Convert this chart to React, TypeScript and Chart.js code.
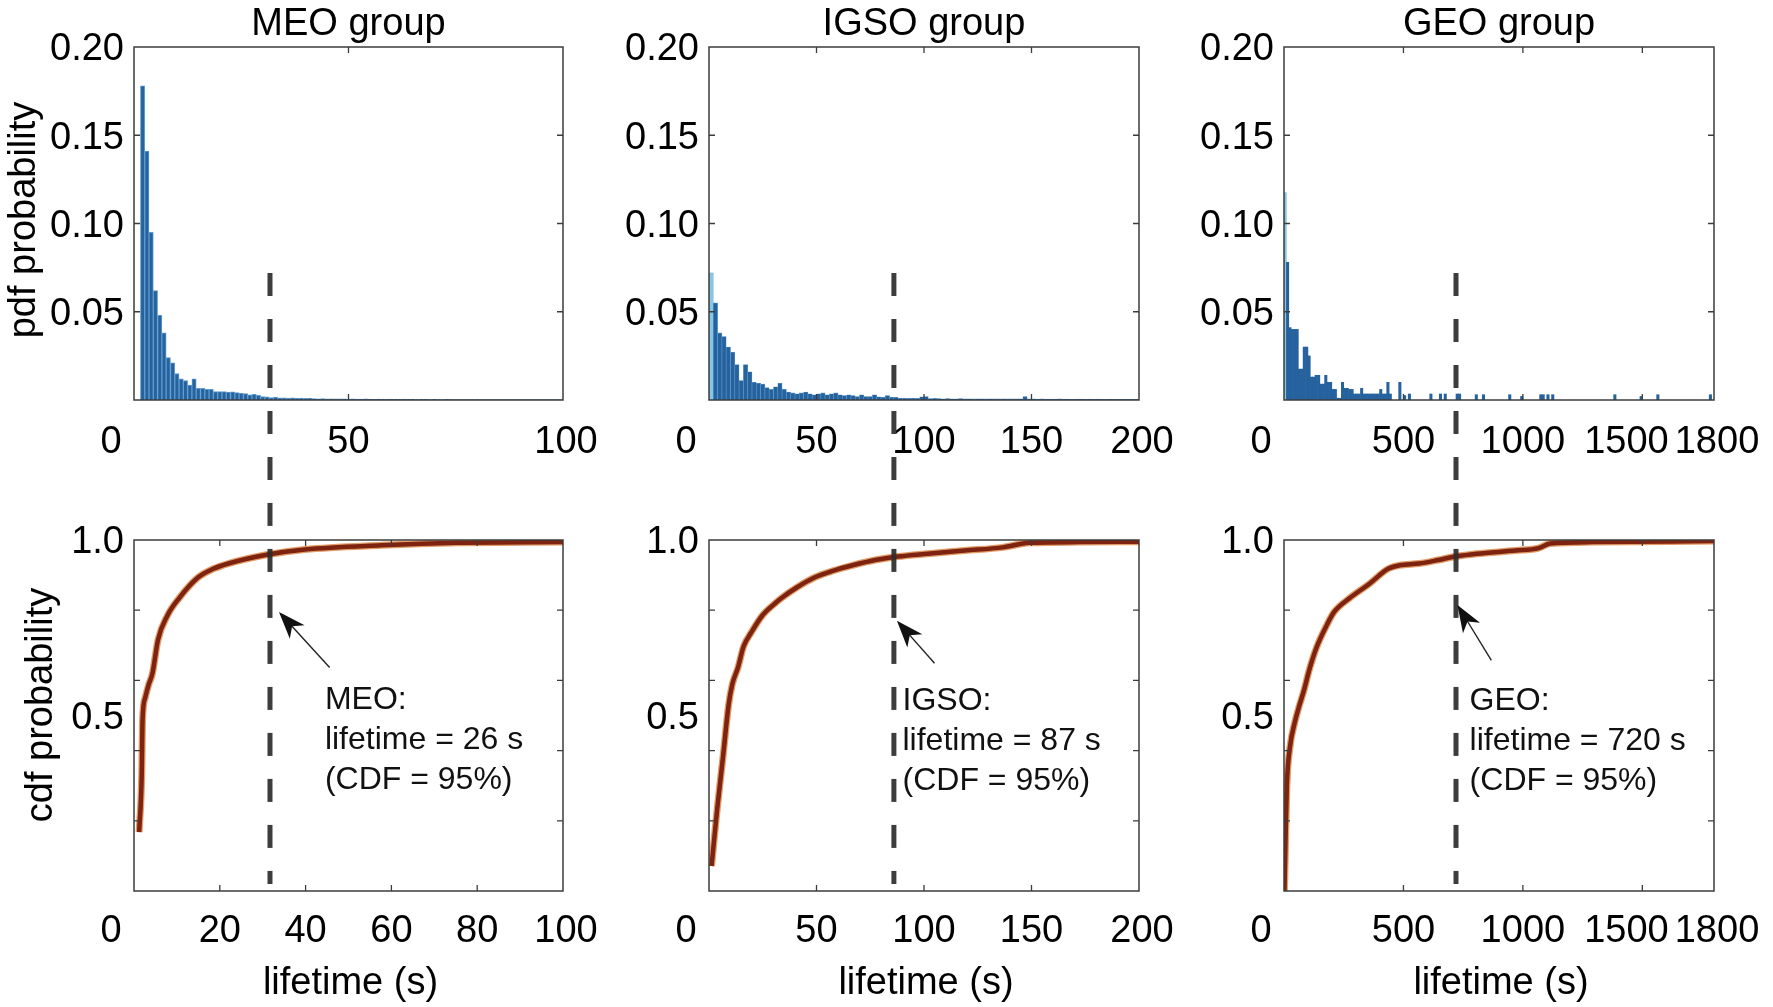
import React, { useEffect, useRef } from "react";
import { Chart, registerables } from "chart.js";

Chart.register(...registerables);

// ================= DATA =================
const groupTitles = ["MEO group", "IGSO group", "GEO group"];
const groupNames = ["MEO", "IGSO", "GEO"];
const lifetimeAt95 = [26, 87, 720];
const xAxisMax = [100, 200, 1800];

const pdfXTickLabels = [
  [0, 50, 100],
  [0, 50, 100, 150, 200],
  [0, 500, 1000, 1500, 1800],
];
const cdfXTickLabels = [
  [0, 20, 40, 60, 80, 100],
  [0, 50, 100, 150, 200],
  [0, 500, 1000, 1500, 1800],
];
const pdfYTickLabels = [0.05, 0.1, 0.15, 0.2];
const cdfYTickLabels = [0.5, 1.0];
const cdfYMinorTicks = [0.2, 0.4, 0.6, 0.8];

// x position where the dashed 95% line is drawn (as seen in the picture)
const dashedLineX = [31.7, 86, 720];
const dashedTopValue = 0.072; // pdf value where the dash starts
const dashedBottomValue = 0.02; // cdf value where the dash ends

// MEO pdf histogram (1 s bins)
const meoPdfX = [
  2, 3, 4, 5, 6, 7, 8, 9, 10, 11, 12, 13, 14, 15, 16, 17, 18, 19, 20, 21, 22, 23, 24, 25, 26, 27, 28, 29, 30, 31,
  32, 33, 34, 35, 36, 37, 38, 39, 40, 41, 42, 43, 44, 45, 46, 47, 48, 49, 50, 51, 52, 53, 54, 55, 56, 57, 58, 59,
  60, 61, 62, 63, 64, 65, 66, 67, 68, 69, 70, 71, 72, 73, 74, 75, 76, 77, 78, 79, 80, 81, 82, 83, 84, 85, 86, 87,
  88, 89, 90, 91, 92, 93, 94, 95, 96, 97, 98, 99, 100,
];
const meoPdfY = [
  0.178, 0.141, 0.095, 0.062, 0.048, 0.038, 0.024, 0.021, 0.015, 0.012,
  0.011, 0.0085, 0.012, 0.0066, 0.0066, 0.006, 0.006, 0.0048, 0.0047, 0.0047,
  0.0045, 0.0046, 0.0042, 0.0038, 0.0036, 0.003, 0.0032, 0.0026, 0.002, 0.0018,
  0.0014, 0.0016, 0.0012, 0.0012, 0.0011, 0.0012, 0.001, 0.0011, 0.0009, 0.001,
  0.0008,
  0.0007, 0.0008, 0.0006, 0.0007, 0.0006, 0.0006, 0.0007, 0.0005, 0.0006, 0.0005,
  0.0005, 0.0006, 0.0005, 0.0004, 0.0005, 0.0005, 0.0004, 0.0005, 0.0004, 0.0004,
  0.0005, 0.0004, 0.0004, 0.0003, 0.0004, 0.0004, 0.0003, 0.0004, 0.0003, 0.0003,
  0.0004, 0.0003, 0.0003, 0.0003, 0.0003, 0.0002, 0.0003, 0.0003, 0.0002, 0.0003,
  0.0002, 0.0002, 0.0003, 0.0002, 0.0002, 0.0002, 0.0002, 0.0002, 0.0002, 0.0002,
  0.0002, 0.0002, 0.0002, 0.0002, 0.0002, 0.0002, 0.0002, 0.0002,
];

// IGSO pdf histogram (2 s bins)
const igsoPdfX = [
  1, 3, 5, 7, 9, 11, 13, 15, 17, 19, 21, 23, 25, 27, 29, 31, 33, 35, 37, 39, 41, 43, 45, 47, 49, 51, 53, 55, 57, 59,
  61, 63, 65, 67, 69, 71, 73, 75, 77, 79, 81, 83, 85, 87, 89, 91, 93, 95, 97, 99, 101, 103, 105, 107, 109, 111, 113,
  115, 117, 119, 121, 123, 125, 127, 129, 131, 133, 135, 137, 139, 141, 143, 145, 147, 149, 151, 153, 155, 157, 159,
  161, 163, 165, 167, 169, 171, 173, 175, 177, 179, 181, 183, 185, 187, 189, 191, 193, 195, 197, 199,
];
const igsoPdfY = [
  0.072, 0.055, 0.038, 0.036, 0.03, 0.027, 0.02, 0.011, 0.02, 0.016,
  0.01, 0.0095, 0.009, 0.007, 0.006, 0.0075, 0.0095, 0.006, 0.0045, 0.004,
  0.0035, 0.004, 0.0045, 0.0035, 0.003, 0.0035, 0.004, 0.003, 0.0035, 0.004,
  0.003, 0.0025, 0.003, 0.0025, 0.002, 0.003, 0.002, 0.002, 0.003, 0.0018,
  0.0015, 0.0025, 0.0015, 0.0015, 0.001, 0.001, 0.0009, 0.001, 0.0009, 0.0018,
  0.002, 0.0008, 0.0009, 0.0008, 0.0007, 0.0008, 0.0007, 0.0007, 0.0008, 0.0007,
  0.0007, 0.0006, 0.0007, 0.0007, 0.0006, 0.0007, 0.0006, 0.0006, 0.0007, 0.0006,
  0.0006, 0.0006, 0.0007, 0.002, 0.0006, 0.0006, 0.0005, 0.0006, 0.0005, 0.0005,
  0.0005, 0.0006, 0.0005, 0.0005, 0.0004, 0.0005, 0.0005, 0.0004, 0.0005, 0.0004,
  0.0005, 0.0004, 0.0004, 0.0005, 0.0004, 0.0004, 0.0004, 0.0004, 0.0004, 0.0004,
];

// GEO pdf histogram (10 s bins, only non-empty bins)
const geoPdfX = [
  5, 15, 25, 35, 45, 55, 65, 75, 85, 95, 105, 115, 125, 135, 145, 155, 165, 175, 185, 195, 205, 215, 225, 235, 245,
  255, 265, 275, 285, 295, 305, 315, 325, 335, 345, 355, 365, 375, 385, 395, 405, 415, 425, 435, 445, 485, 505, 525,
  615, 655, 675, 725, 735, 805, 835, 945, 995, 1075, 1085, 1105, 1125, 1385, 1495, 1565, 1785,
];
const geoPdfY = [
  0.1175, 0.078, 0.041, 0.04, 0.04, 0.04, 0.0175, 0.0175, 0.03, 0.03, 0.025, 0.013, 0.013, 0.014, 0.014, 0.009, 0.009,
  0.014, 0.01, 0.01, 0.006, 0.006, 0.001, 0.001, 0.01, 0.0066, 0.0066, 0.006, 0.006, 0.0034, 0.0034, 0.0034, 0.0066,
  0.0034, 0.0034, 0.0034, 0.0034, 0.0034, 0.0034, 0.0034, 0.006, 0.0034, 0.0034, 0.01, 0.0034, 0.01, 0.0025, 0.0034,
  0.0034, 0.0034, 0.0034, 0.0034, 0.0034, 0.003, 0.003, 0.003, 0.002, 0.003, 0.003, 0.003, 0.003, 0.003, 0.002, 0.003,
  0.003,
];

// CDF curves
const meoCdfX = [1.2, 1.8, 2.0, 2.6, 3.4, 4.3, 5.6, 7.8, 10.5, 14.9, 18.5, 22, 30.9, 39.8, 57.6, 75.4, 100];
const meoCdfY = [0.168, 0.33, 0.489, 0.55, 0.587, 0.62, 0.716, 0.785, 0.834, 0.893, 0.918, 0.933, 0.958, 0.973, 0.985, 0.992, 0.994];

const igsoCdfX = [1.2, 3.8, 6.5, 9.1, 10.8, 13.5, 16.1, 19.6, 24.8, 31.8, 33.6, 40.6, 49.3, 58, 66.8, 77.3, 87.8, 101.7, 119, 136.7, 149, 171.7, 200];
const igsoCdfY = [0.071, 0.233, 0.381, 0.529, 0.588, 0.637, 0.697, 0.736, 0.785, 0.825, 0.834, 0.864, 0.894, 0.913, 0.928, 0.943, 0.953, 0.961, 0.97, 0.979, 0.992, 0.994, 0.995];

const geoCdfX = [2, 6, 12, 25, 45, 65, 85, 105, 137, 178, 210, 274, 355, 436, 484, 565, 646, 718, 807, 969, 1066, 1114, 1291, 1800];
const geoCdfY = [0.0, 0.13, 0.3, 0.41, 0.48, 0.53, 0.575, 0.628, 0.695, 0.756, 0.795, 0.834, 0.874, 0.918, 0.928, 0.933, 0.943, 0.953, 0.961, 0.97, 0.977, 0.99, 0.994, 0.997];

// Annotation anchors (data coordinates of the cdf panels)
const arrowTipX = [33.8, 87.4, 726];
const arrowTipY = [0.795, 0.77, 0.815];
const arrowTailX = [45.6, 104.9, 868];
const arrowTailY = [0.637, 0.649, 0.657];
const noteX = [44.5, 90, 777];
const noteY = [0.545, 0.54, 0.54];

const pdfXs = [meoPdfX, igsoPdfX, geoPdfX];
const pdfYs = [meoPdfY, igsoPdfY, geoPdfY];
const cdfXs = [meoCdfX, igsoCdfX, geoCdfX];
const cdfYs = [meoCdfY, igsoCdfY, geoCdfY];

// ================= LAYOUT / STYLE =================
const FONT = '"Liberation Sans", Arial, Helvetica, sans-serif';
Chart.defaults.font.family = FONT;

const COLS = [
  { cx: 0, w: 600, left: 134, right: 563 },
  { cx: 600, w: 580, left: 709, right: 1139 },
  { cx: 1180, w: 593, left: 1284, right: 1714 },
];
const ROWS = [
  { cy: 0, h: 500, top: 47, bottom: 400 },
  { cy: 500, h: 507, top: 540, bottom: 891 },
];

const BAR_FILL = "rgb(38,98,158)";
const BAR_EDGE = "rgb(95,155,205)";
const BAR_LIGHT = "rgb(135,198,228)";
const FRAME = "#3c3c3c";
const DASH = [23, 23];

type Shared = { phase: number[] };

function drawXLabels(ctx: CanvasRenderingContext2D, xs: any, vals: number[], y: number) {
  ctx.font = `38px ${FONT}`;
  ctx.fillStyle = "#000";
  ctx.textAlign = "center";
  ctx.textBaseline = "middle";
  const items = vals.map((v, i) => {
    const px = xs.getPixelForValue(v);
    const txt = String(v);
    const w = ctx.measureText(txt).width;
    let c = px;
    if (i === 0) c = px - 23;
    if (i === vals.length - 1) c = px + 3;
    return { txt, c, w };
  });
  for (let i = items.length - 2; i >= 0; i--) {
    const maxRight = items[i + 1].c - items[i + 1].w / 2 - 6;
    if (items[i].c + items[i].w / 2 > maxRight) items[i].c = maxRight - items[i].w / 2;
  }
  items.forEach((it) => ctx.fillText(it.txt, it.c, y));
}

function decorPlugin(col: number, row: number, shared: Shared) {
  return {
    id: "decor" + row + col,
    afterDatasetsDraw(chart: any) {
      const { ctx, chartArea: a, scales } = chart;
      const xs = scales.x;
      const ys = scales.y;
      ctx.save();

      // frame
      ctx.strokeStyle = FRAME;
      ctx.lineWidth = 1.5;
      ctx.setLineDash([]);
      ctx.strokeRect(a.left, a.top, a.right - a.left, a.bottom - a.top);

      // inner tick marks
      const tl = 6;
      const xTicks = row === 0 ? pdfXTickLabels[col] : cdfXTickLabels[col];
      const yMarks = row === 0 ? pdfYTickLabels : cdfYMinorTicks;
      ctx.lineWidth = 1.3;
      ctx.beginPath();
      xTicks.forEach((v) => {
        const px = xs.getPixelForValue(v);
        if (px <= a.left + 1 || px >= a.right - 1) return;
        ctx.moveTo(px, a.bottom);
        ctx.lineTo(px, a.bottom - tl);
        ctx.moveTo(px, a.top);
        ctx.lineTo(px, a.top + tl);
      });
      yMarks.forEach((v) => {
        const py = ys.getPixelForValue(v);
        if (py <= a.top + 1) return;
        ctx.moveTo(a.left, py);
        ctx.lineTo(a.left + tl, py);
        ctx.moveTo(a.right, py);
        ctx.lineTo(a.right - tl, py);
      });
      ctx.stroke();

      // x tick labels
      drawXLabels(ctx, xs, xTicks, a.bottom + (row === 0 ? 43 : 41));

      // titles
      ctx.fillStyle = "#000";
      ctx.textAlign = "center";
      ctx.textBaseline = "middle";
      ctx.font = `38px ${FONT}`;
      const midX = (a.left + a.right) / 2;
      if (row === 0) {
        ctx.fillText(groupTitles[col], midX, 25);
      } else {
        ctx.fillText("lifetime (s)", midX + 2, a.bottom + 93);
      }
      if (col === 0) {
        ctx.save();
        if (row === 0) ctx.translate(25, 220);
        else ctx.translate(42, 205);
        ctx.rotate(-Math.PI / 2);
        ctx.fillText(row === 0 ? "pdf probability" : "cdf probability", 0, 0);
        ctx.restore();
      }

      // dashed 95% line
      const dx = xs.getPixelForValue(dashedLineX[col]);
      ctx.strokeStyle = "rgba(45,45,45,0.92)";
      ctx.lineWidth = 5;
      ctx.setLineDash(DASH);
      ctx.beginPath();
      if (row === 0) {
        const y0 = ys.getPixelForValue(dashedTopValue);
        ctx.lineDashOffset = 0;
        ctx.moveTo(dx, y0);
        ctx.lineTo(dx, chart.height);
        shared.phase[col] = (chart.height - y0) % (DASH[0] + DASH[1]);
      } else {
        ctx.lineDashOffset = shared.phase[col] || 0;
        ctx.moveTo(dx, 0);
        ctx.lineTo(dx, ys.getPixelForValue(dashedBottomValue));
      }
      ctx.stroke();
      ctx.setLineDash([]);
      ctx.lineDashOffset = 0;

      if (row === 1) {
        // arrow
        const tx = xs.getPixelForValue(arrowTipX[col]);
        const ty = ys.getPixelForValue(arrowTipY[col]);
        const sx = xs.getPixelForValue(arrowTailX[col]);
        const sy = ys.getPixelForValue(arrowTailY[col]);
        const len = Math.hypot(tx - sx, ty - sy);
        const ux = (tx - sx) / len;
        const uy = (ty - sy) / len;
        const nx = -uy;
        const ny = ux;
        const HL = 27;
        const HW = 10;
        ctx.strokeStyle = "#222";
        ctx.lineWidth = 1.4;
        ctx.beginPath();
        ctx.moveTo(sx, sy);
        ctx.lineTo(tx - ux * HL * 0.6, ty - uy * HL * 0.6);
        ctx.stroke();
        ctx.fillStyle = "#111";
        ctx.beginPath();
        ctx.moveTo(tx, ty);
        ctx.lineTo(tx - ux * HL + nx * HW, ty - uy * HL + ny * HW);
        ctx.lineTo(tx - ux * HL * 0.72, ty - uy * HL * 0.72);
        ctx.lineTo(tx - ux * HL - nx * HW, ty - uy * HL - ny * HW);
        ctx.closePath();
        ctx.fill();

        // annotation text
        ctx.fillStyle = "#111";
        ctx.font = `32px ${FONT}`;
        ctx.textAlign = "left";
        ctx.textBaseline = "middle";
        const nxp = xs.getPixelForValue(noteX[col]);
        const nyp = ys.getPixelForValue(noteY[col]);
        const lines = [`${groupNames[col]}:`, `lifetime = ${lifetimeAt95[col]} s`, "(CDF = 95%)"];
        lines.forEach((t, i) => ctx.fillText(t, nxp, nyp + i * 40));
      }
      ctx.restore();
    },
  };
}

function baseOptions(col: number, row: number, yMax: number, yTicks: number[], digits: number) {
  const C = COLS[col];
  const R = ROWS[row];
  const L = C.left - C.cx;
  const Rp = C.cx + C.w - C.right;
  const T = R.top - R.cy;
  const B = R.cy + R.h - R.bottom;
  return {
    responsive: false,
    maintainAspectRatio: false,
    animation: false,
    devicePixelRatio: 1,
    events: [],
    layout: { padding: { left: 0, top: T, right: Rp, bottom: 0 } },
    plugins: { legend: { display: false }, tooltip: { enabled: false }, title: { display: false } },
    scales: {
      x: {
        type: "linear",
        min: 0,
        max: xAxisMax[col],
        offset: false,
        grid: { display: false, drawTicks: false },
        border: { display: false },
        ticks: { display: false },
        afterFit: (s: any) => {
          s.height = B;
        },
      },
      y: {
        type: "linear",
        min: 0,
        max: yMax,
        grid: { display: false, drawTicks: false },
        border: { display: false },
        ticks: {
          color: "#000",
          font: { size: 38, family: FONT },
          padding: 10,
          labelOffset: 3,
          callback: (v: any) => Number(v).toFixed(digits),
        },
        afterBuildTicks: (s: any) => {
          s.ticks = yTicks.map((v) => ({ value: v }));
        },
        afterFit: (s: any) => {
          s.width = L;
        },
      },
    },
  };
}

function makePdfChart(canvas: HTMLCanvasElement, col: number, shared: Shared) {
  const xs = pdfXs[col];
  const ys = pdfYs[col];
  const highlightFirst = col !== 0;
  return new Chart(canvas, {
    type: "bar",
    data: {
      datasets: [
        {
          data: xs.map((x, i) => ({ x, y: ys[i] })),
          backgroundColor: (c: any) => (highlightFirst && c.dataIndex === 0 ? BAR_LIGHT : BAR_FILL),
          borderColor: BAR_EDGE,
          borderWidth: col === 0 ? 1 : col === 1 ? 0.6 : 0,
          barPercentage: 1,
          categoryPercentage: 1,
          grouped: false,
        } as any,
      ],
    },
    options: baseOptions(col, 0, 0.2, pdfYTickLabels, 2) as any,
    plugins: [decorPlugin(col, 0, shared)],
  });
}

function makeCdfChart(canvas: HTMLCanvasElement, col: number, shared: Shared) {
  const xs = cdfXs[col];
  const ys = cdfYs[col];
  const pts = xs.map((x, i) => ({ x, y: ys[i] }));
  return new Chart(canvas, {
    type: "line",
    data: {
      datasets: [
        {
          data: pts,
          borderColor: "#7e2310",
          borderWidth: 4.5,
          pointRadius: 0,
          cubicInterpolationMode: "monotone",
          fill: false,
        } as any,
        {
          data: pts,
          borderColor: "rgba(222,140,80,0.85)",
          borderWidth: 7,
          pointRadius: 0,
          cubicInterpolationMode: "monotone",
          fill: false,
        } as any,
      ],
    },
    options: baseOptions(col, 1, 1.0, cdfYTickLabels, 1) as any,
    plugins: [decorPlugin(col, 1, shared)],
  });
}

export default function App() {
  const refs = useRef<(HTMLCanvasElement | null)[]>([]);

  useEffect(() => {
    const charts: Chart[] = [];
    const shared: Shared = { phase: [0, 0, 0] };
    for (let col = 0; col < 3; col++) {
      const top = refs.current[col];
      const bottom = refs.current[3 + col];
      if (top) charts.push(makePdfChart(top, col, shared));
      if (bottom) charts.push(makeCdfChart(bottom, col, shared));
    }
    return () => charts.forEach((c) => c.destroy());
  }, []);

  const canvases: any[] = [];
  ROWS.forEach((R, row) =>
    COLS.forEach((C, col) => {
      const idx = row * 3 + col;
      canvases.push(
        <canvas
          key={idx}
          ref={(el) => {
            refs.current[idx] = el;
          }}
          width={C.w}
          height={R.h}
          style={{ position: "absolute", left: C.cx, top: R.cy, width: C.w, height: R.h, display: "block" }}
        />
      );
    })
  );

  return (
    <div
      style={{
        position: "fixed",
        left: 0,
        top: 0,
        width: 1773,
        height: 1007,
        background: "#ffffff",
        overflow: "hidden",
      }}
    >
      {canvases}
    </div>
  );
}
